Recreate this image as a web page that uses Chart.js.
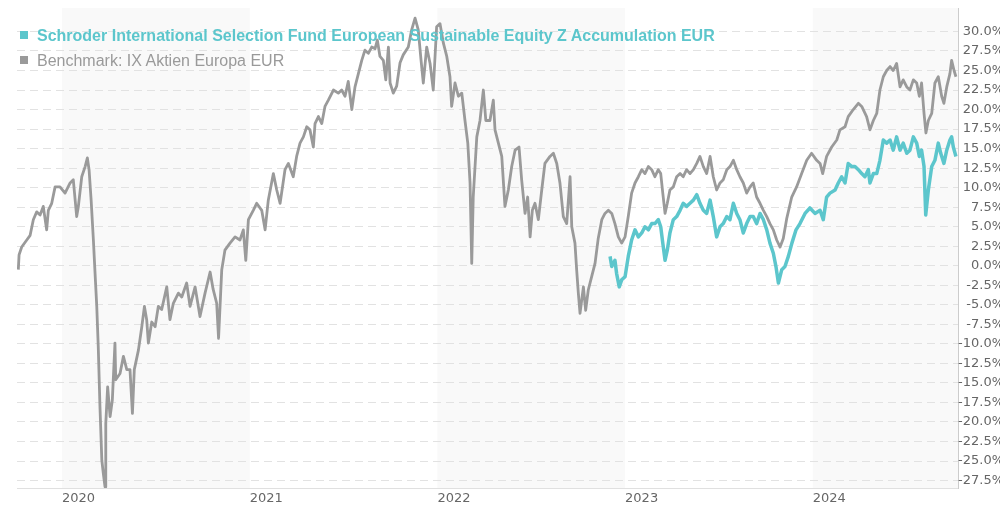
<!DOCTYPE html>
<html>
<head>
<meta charset="utf-8">
<script src="https://cdn.jsdelivr.net/npm/chart.js@4"></script>
<style>
  html, body { margin: 0; padding: 0; background: #fff; overflow: hidden; }
  #wrap { position: relative; width: 1000px; height: 507px; overflow: hidden; }
  #chart { position: absolute; left: 0; top: 0; }
  .legend { position: absolute; left: 20px; font-family: "Liberation Sans", Arial, sans-serif; font-size: 16px; line-height: 20px; white-space: nowrap; }
  .legend .box { display: inline-block; width: 8px; height: 8px; margin-right: 9px; vertical-align: 2px; }
  #leg1 { top: 26px; color: #5cc6cc; font-weight: bold; }
  #leg1 .box { background: #5cc6cc; }
  #leg2 { top: 51px; color: #9a9a9a; }
  #leg2 .box { background: #9a9a9a; }
</style>
</head>
<body>
<div id="wrap">
  <canvas id="chart" width="1004" height="507"></canvas>
  <div class="legend" id="leg1"><span class="box"></span>Schroder International Selection Fund European Sustainable Equity Z Accumulation EUR</div>
  <div class="legend" id="leg2"><span class="box"></span>Benchmark: IX Aktien Europa EUR</div>
</div>
<script>
// dates as decimal years, values in % performance
const benchDates = [
  2019.767, 2019.771, 2019.785, 2019.812, 2019.830, 2019.847, 2019.865, 2019.883, 2019.900, 2019.918,
  2019.927, 2019.945, 2019.963, 2019.989, 2020.016, 2020.043, 2020.060, 2020.078, 2020.087, 2020.105,
  2020.123, 2020.135, 2020.144, 2020.155, 2020.167, 2020.176, 2020.185, 2020.193, 2020.202, 2020.212,
  2020.220, 2020.229, 2020.233, 2020.243, 2020.256, 2020.268, 2020.282, 2020.286, 2020.309, 2020.327,
  2020.345, 2020.362, 2020.375, 2020.385, 2020.407, 2020.425, 2020.439, 2020.451, 2020.460, 2020.478,
  2020.496, 2020.513, 2020.531, 2020.558, 2020.575, 2020.593, 2020.620, 2020.638, 2020.664, 2020.682,
  2020.709, 2020.735, 2020.762, 2020.789, 2020.805, 2020.824, 2020.834, 2020.851, 2020.868, 2020.895,
  2020.922, 2020.948, 2020.966, 2020.979, 2020.993, 2021.019, 2021.037, 2021.064, 2021.082, 2021.099,
  2021.126, 2021.144, 2021.162, 2021.188, 2021.206, 2021.232, 2021.250, 2021.268, 2021.286, 2021.304,
  2021.321, 2021.339, 2021.348, 2021.366, 2021.384, 2021.401, 2021.419, 2021.446, 2021.472, 2021.490,
  2021.508, 2021.525, 2021.544, 2021.561, 2021.579, 2021.597, 2021.614, 2021.632, 2021.650, 2021.668,
  2021.680, 2021.694, 2021.712, 2021.725, 2021.739, 2021.748, 2021.765, 2021.783, 2021.801, 2021.818,
  2021.845, 2021.863, 2021.881, 2021.898, 2021.913, 2021.925, 2021.943, 2021.961, 2021.978, 2021.996,
  2022.014, 2022.032, 2022.050, 2022.067, 2022.076, 2022.094, 2022.112, 2022.130, 2022.147, 2022.162,
  2022.174, 2022.183, 2022.191, 2022.210, 2022.227, 2022.245, 2022.258, 2022.280, 2022.298, 2022.307,
  2022.325, 2022.343, 2022.360, 2022.378, 2022.396, 2022.414, 2022.435, 2022.449, 2022.467, 2022.481,
  2022.494, 2022.506, 2022.520, 2022.538, 2022.556, 2022.573, 2022.600, 2022.618, 2022.636, 2022.653,
  2022.671, 2022.689, 2022.707, 2022.716, 2022.733, 2022.742, 2022.751, 2022.760, 2022.778, 2022.790,
  2022.804, 2022.822, 2022.840, 2022.857, 2022.876, 2022.893, 2022.911, 2022.929, 2022.946, 2022.964,
  2022.982, 2023.000, 2023.017, 2023.035, 2023.053, 2023.071, 2023.089, 2023.106, 2023.124, 2023.142,
  2023.159, 2023.177, 2023.190, 2023.201, 2023.213, 2023.225, 2023.239, 2023.257, 2023.275, 2023.293,
  2023.310, 2023.328, 2023.346, 2023.364, 2023.382, 2023.399, 2023.417, 2023.435, 2023.453, 2023.470,
  2023.488, 2023.506, 2023.523, 2023.542, 2023.559, 2023.577, 2023.595, 2023.612, 2023.630, 2023.648,
  2023.666, 2023.683, 2023.701, 2023.719, 2023.737, 2023.755, 2023.772, 2023.790, 2023.808, 2023.826,
  2023.843, 2023.861, 2023.888, 2023.914, 2023.941, 2023.968, 2023.994, 2024.021, 2024.039, 2024.053,
  2024.074, 2024.101, 2024.128, 2024.145, 2024.172, 2024.189, 2024.216, 2024.243, 2024.261, 2024.287,
  2024.305, 2024.323, 2024.341, 2024.358, 2024.376, 2024.394, 2024.412, 2024.429, 2024.447, 2024.465,
  2024.482, 2024.501, 2024.518, 2024.536, 2024.554, 2024.568, 2024.580, 2024.593, 2024.603, 2024.616,
  2024.634, 2024.651, 2024.669, 2024.687, 2024.699, 2024.714, 2024.731, 2024.740, 2024.753, 2024.763
];
const benchValues = [
  -0.5, 1.4, 2.4, 3.3, 3.9, 5.9, 6.9, 6.5, 7.6, 4.6,
  7.1, 8.0, 10.1, 10.1, 9.3, 10.6, 11.0, 6.3, 7.6, 11.4,
  12.7, 13.8, 12.3, 8.4, 3.3, -1.0, -5.2, -10.4, -18.0, -24.9,
  -26.6, -28.3, -20.2, -15.5, -19.3, -17.2, -9.9, -14.6, -13.8, -11.6,
  -13.3, -13.3, -18.9, -13.3, -10.8, -7.8, -5.2, -6.9, -9.9, -7.2,
  -7.8, -5.2, -5.6, -2.7, -6.9, -4.8, -3.5, -4.0, -2.2, -5.2,
  -2.7, -6.5, -3.5, -0.8, -3.0, -4.8, -9.3, -0.5, 2.0, 2.9,
  3.7, 3.3, 4.6, 0.7, 5.9, 7.1, 8.0, 7.1, 4.6, 8.4,
  11.8, 9.7, 8.0, 12.3, 13.1, 11.4, 14.0, 15.7, 16.5, 17.8,
  17.4, 15.2, 18.2, 19.1, 18.2, 20.4, 21.2, 22.5, 22.1, 22.5,
  21.7, 23.6, 20.0, 22.9, 24.6, 26.3, 27.6, 27.2, 28.0, 27.8,
  28.9, 26.8, 26.3, 23.8, 28.0, 23.4, 22.1, 23.0, 26.0, 27.0,
  28.0, 30.2, 31.7, 30.2, 26.3, 23.4, 28.0, 25.9, 22.5, 30.6,
  31.0, 28.5, 26.8, 24.2, 20.4, 23.4, 21.7, 22.1, 18.6, 15.7,
  10.6, 0.3, 8.8, 16.5, 18.6, 22.5, 18.6, 18.6, 21.2, 17.4,
  15.7, 14.0, 7.6, 9.7, 12.7, 14.8, 15.2, 11.0, 6.7, 8.8,
  3.7, 7.1, 8.0, 5.9, 9.7, 13.1, 14.0, 14.4, 13.1, 10.6,
  6.3, 5.4, 11.4, 5.0, 2.9, -0.5, -3.5, -6.1, -2.7, -5.7,
  -3.1, -1.4, 0.3, 3.5, 5.9, 6.7, 7.1, 6.7, 5.4, 3.7,
  2.9, 3.7, 6.3, 9.3, 10.6, 11.4, 12.3, 11.8, 12.7, 12.3,
  11.4, 12.3, 11.8, 9.3, 6.7, 8.0, 9.7, 10.1, 11.4, 11.8,
  11.4, 12.3, 11.8, 12.3, 13.1, 14.0, 12.7, 11.8, 14.0, 11.4,
  9.7, 10.6, 11.0, 12.3, 12.7, 13.5, 12.3, 11.4, 10.6, 9.3,
  10.1, 10.6, 8.8, 8.0, 7.1, 6.3, 5.4, 4.6, 3.3, 2.4,
  3.5, 6.0, 8.8, 10.1, 11.8, 13.5, 14.4, 13.5, 13.1, 11.8,
  14.0, 15.2, 16.1, 17.4, 17.8, 19.1, 20.0, 20.8, 20.4, 19.1,
  17.4, 18.6, 19.5, 22.5, 24.2, 25.0, 25.5, 25.0, 25.9, 22.9,
  23.8, 22.9, 22.5, 23.8, 23.4, 21.7, 23.4, 19.5, 17.0, 18.6,
  19.5, 23.4, 24.2, 21.7, 20.8, 22.9, 24.6, 26.3, 25.0, 24.2
];

const fundDates = [
  2022.920, 2022.929, 2022.946, 2022.955, 2022.969, 2022.982, 2023.000, 2023.017, 2023.035, 2023.053,
  2023.071, 2023.089, 2023.106, 2023.124, 2023.142, 2023.159, 2023.177, 2023.190, 2023.201, 2023.213,
  2023.225, 2023.239, 2023.257, 2023.275, 2023.293, 2023.310, 2023.328, 2023.346, 2023.364, 2023.382,
  2023.399, 2023.417, 2023.435, 2023.453, 2023.470, 2023.488, 2023.506, 2023.523, 2023.542, 2023.559,
  2023.577, 2023.595, 2023.612, 2023.630, 2023.648, 2023.666, 2023.683, 2023.701, 2023.719, 2023.737,
  2023.755, 2023.772, 2023.790, 2023.804, 2023.817, 2023.835, 2023.852, 2023.870, 2023.889, 2023.911,
  2023.932, 2023.959, 2023.985, 2024.012, 2024.039, 2024.056, 2024.074, 2024.092, 2024.119, 2024.136,
  2024.154, 2024.172, 2024.189, 2024.208, 2024.225, 2024.243, 2024.261, 2024.278, 2024.296, 2024.305,
  2024.323, 2024.341, 2024.358, 2024.376, 2024.394, 2024.412, 2024.429, 2024.447, 2024.465, 2024.482,
  2024.501, 2024.518, 2024.536, 2024.554, 2024.568, 2024.580, 2024.593, 2024.602, 2024.616, 2024.634,
  2024.651, 2024.669, 2024.682, 2024.699, 2024.714, 2024.731, 2024.740, 2024.749, 2024.763
];
const fundValues = [
  1.2, -0.1, 0.7, -1.0, -2.7, -1.8, -1.4, 1.2, 3.3, 4.6,
  3.7, 4.2, 5.0, 4.6, 5.4, 5.4, 5.9, 5.0, 2.9, 0.7,
  2.0, 4.2, 5.9, 6.3, 7.1, 8.0, 7.6, 8.0, 8.4, 9.1,
  8.0, 7.1, 6.7, 8.4, 6.3, 3.7, 5.0, 5.4, 6.3, 5.9,
  8.0, 6.7, 5.9, 4.2, 5.4, 6.3, 6.3, 5.4, 6.7, 5.9,
  4.6, 2.9, 1.6, -0.1, -2.2, -0.5, -0.1, 1.2, 2.9, 4.6,
  5.4, 6.7, 7.4, 6.7, 7.1, 5.9, 8.8, 9.3, 9.7, 10.6,
  11.4, 10.6, 13.1, 12.7, 12.7, 12.3, 11.8, 11.4, 12.3, 10.6,
  11.8, 11.8, 13.5, 16.1, 15.7, 16.1, 14.8, 16.5, 14.8, 15.7,
  14.4, 14.8, 16.5, 15.7, 14.0, 14.8, 12.7, 6.5, 9.7, 12.7,
  13.5, 15.7, 14.4, 13.1, 14.8, 16.1, 16.5, 15.2, 14.0
];

const yearTicks = [2020, 2021, 2022, 2023, 2024];
const shadedYears = [2020, 2022, 2024];
const yTicks = [30, 27.5, 25, 22.5, 20, 17.5, 15, 12.5, 10, 7.5, 5, 2.5, 0,
  -2.5, -5, -7.5, -10, -12.5, -15, -17.5, -20, -22.5, -25, -27.5];

const tealColor = '#5cc6cc';
const greyColor = '#9a9a9a';
const tickFont = { family: 'DejaVu Sans', size: 13 };

// light grey background band on every other year
const yearBands = {
  id: 'yearBands',
  beforeDraw(chart) {
    const { ctx, chartArea: a, scales: { x } } = chart;
    ctx.save();
    ctx.fillStyle = '#f9f9f9';
    shadedYears.forEach(yr => {
      const x0 = Math.max(x.getPixelForValue(yr), a.left);
      const x1 = Math.min(x.getPixelForValue(yr + 1), a.right);
      if (x1 > x0) ctx.fillRect(x0, a.top, x1 - x0, a.bottom - a.top);
    });
    ctx.restore();
  }
};

const ctx = document.getElementById('chart').getContext('2d');
const perfChart = new Chart(ctx, {
  type: 'line',
  data: {
    datasets: [{
      label: 'Schroder International Selection Fund European Sustainable Equity Z Accumulation EUR',
      data: fundDates.map((d, i) => ({ x: d, y: fundValues[i] })),
      borderColor: tealColor,
      borderWidth: 3.5,
      pointRadius: 0,
      tension: 0,
      borderJoinStyle: 'round',
      fill: false
    }, {
      label: 'Benchmark: IX Aktien Europa EUR',
      data: benchDates.map((d, i) => ({ x: d, y: benchValues[i] })),
      borderColor: greyColor,
      borderWidth: 2.8,
      pointRadius: 0,
      tension: 0,
      borderJoinStyle: 'round',
      fill: false
    }]
  },
  options: {
    responsive: false,
    animation: false,
    layout: { padding: { left: 17, top: 8, right: 0, bottom: 0 } },
    scales: {
      x: {
        type: 'linear',
        min: 2019.760,
        max: 2024.774,
        afterBuildTicks: s => { s.ticks = yearTicks.map(v => ({ value: v })); },
        afterFit: s => { s.height = 19; },
        grid: { display: false, drawTicks: false },
        border: { display: true, color: '#e0e0e0', width: 1 },
        ticks: {
          align: 'start',
          padding: 3,
          maxRotation: 0,
          autoSkip: false,
          color: '#666',
          font: tickFont,
          callback: v => String(v)
        }
      },
      y: {
        position: 'right',
        min: -28.45,
        max: 33,
        afterBuildTicks: s => { s.ticks = yTicks.map(v => ({ value: v })); },
        afterFit: s => { s.width = 46; },
        grid: { color: '#e2e2e2', drawTicks: false },
        border: { display: true, color: '#cccccc', dash: [8, 5] },
        ticks: {
          padding: 0,
          crossAlign: 'far',
          color: '#666',
          font: tickFont,
          callback: v => v.toFixed(1) + '%'
        }
      }
    },
    plugins: {
      legend: { display: false },
      tooltip: { enabled: false }
    }
  },
  plugins: [yearBands]
});
</script>
</body>
</html>
